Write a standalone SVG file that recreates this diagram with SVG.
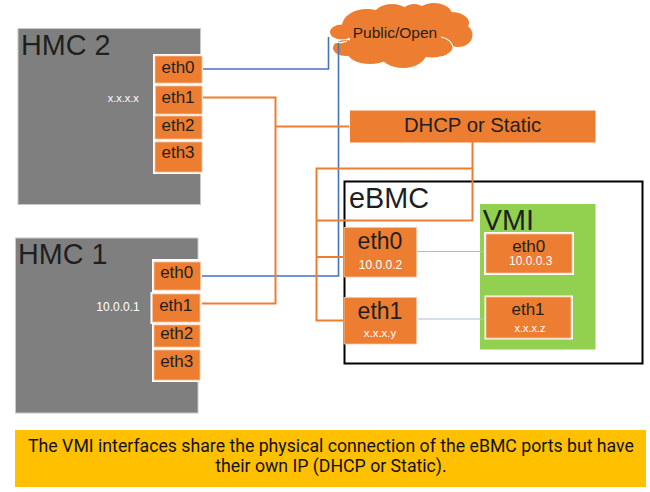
<svg xmlns="http://www.w3.org/2000/svg" width="650" height="492" viewBox="0 0 650 492">
<style>
text{font-family:"Liberation Sans",Arial,sans-serif;fill:#1f1f1f}
.hmc{fill:#7f7f7f;stroke:#c8c8c8;stroke-width:1}
.plate{fill:#fff}
.port{fill:#ed7d31;stroke:#f6c4a2;stroke-width:.8}
.ip{fill:#fff;text-anchor:middle}
.t{font-size:17px;text-anchor:middle}
.big{font-size:28.8px}
.e{font-size:23px;text-anchor:middle}
.o{fill:none;stroke:#ed7d31;stroke-width:2}
.b{fill:none;stroke:#4472c4;stroke-width:1.6}
.lb{fill:none;stroke:#a9bde3;stroke-width:1.2}
.note{font-family:Roboto,"Liberation Sans",sans-serif;font-size:17.7px;text-anchor:middle;fill:#111}
</style>
<rect width="650" height="492" fill="#fff"/>
<g id="hmc2">
<rect class="hmc" x="18" y="28.500" width="182.500" height="176"/>
<text class="big" x="21" y="55">HMC 2</text>
<text class="ip" x="123.300" y="102" font-size="11">x.x.x.x</text>
<rect class="plate" x="153" y="54" width="50" height="120"/>
<rect class="port" x="155" y="56" width="47" height="27"/><text class="t" x="178" y="73">eth0</text>
<rect class="port" x="155.500" y="86" width="46.500" height="28"/><text class="t" x="178" y="103">eth1</text>
<rect class="port" x="155" y="116" width="47" height="23"/><text class="t" x="178" y="131">eth2</text>
<rect class="port" x="155" y="142" width="47" height="30"/><text class="t" x="178" y="158">eth3</text>
</g>
<g id="hmc1">
<rect class="hmc" x="15.500" y="238" width="182.500" height="175"/>
<text class="big" x="18" y="264">HMC 1</text>
<text class="ip" x="118" y="311" font-size="12">10.0.0.1</text>
<rect class="plate" x="152" y="259" width="49" height="123"/>
<rect class="plate" x="150.500" y="292" width="50.500" height="32"/>
<rect class="port" x="154" y="262" width="46.500" height="28"/><text class="t" x="176.700" y="278">eth0</text>
<rect class="port" x="152.500" y="294" width="47.500" height="28"/><text class="t" x="175.700" y="311">eth1</text>
<rect class="port" x="154" y="325" width="46" height="22"/><text class="t" x="176.700" y="339">eth2</text>
<rect class="port" x="154" y="350" width="46" height="30"/><text class="t" x="176.700" y="367">eth3</text>
</g>
<g id="ebmc">
<rect x="344.500" y="181.500" width="298" height="182" fill="#fff" stroke="#000" stroke-width="2"/>
<text x="349" y="208" style="font-size:28.800px">eBMC</text>
</g>
<g id="vmi">
<rect x="480" y="204" width="115.500" height="145.500" fill="#92d050"/>
<text x="482.700" y="230" style="font-size:28.800px">VMI</text>
</g>
<g id="cloud">
<g fill="#ed7d31">
<ellipse cx="342" cy="32" rx="12" ry="7.500"/>
<ellipse cx="346" cy="48" rx="13" ry="8"/>
<ellipse cx="367" cy="26" rx="25" ry="17"/>
<ellipse cx="392" cy="17" rx="19" ry="13"/>
<ellipse cx="414" cy="16" rx="14" ry="12"/>
<ellipse cx="434" cy="15" rx="18" ry="12"/>
<ellipse cx="451" cy="23" rx="18" ry="11"/>
<ellipse cx="458" cy="35" rx="14.500" ry="12"/>
<ellipse cx="370" cy="50" rx="24" ry="14"/>
<ellipse cx="403" cy="52" rx="24" ry="16"/>
<ellipse cx="432" cy="46" rx="21" ry="11.500"/>
<rect x="350" y="20" width="95" height="32"/>
</g>
<path d="M441 37Q451 39 453 47M333 42Q340 44 347 41" fill="none" stroke="#fff" stroke-width="1.200"/>
<text x="395" y="37.700" text-anchor="middle" style="font-size:15.500px">Public/Open</text>
</g>
<g id="connectors">
<path class="b" d="M203 69H328.500V37"/>
<path class="b" d="M202 276H338.500V43"/>
<path class="o" d="M203 97.500H275.500V303.500H202"/>
<path class="o" d="M275.500 126.500H349"/>
<path class="o" d="M472.500 142V220.500H316.500"/>
<path class="o" d="M472.500 168.500H316.500V320.500H343"/>
<path class="o" d="M316.500 257H343"/>
<path class="lb" d="M416 251.500H485"/>
<path class="lb" d="M418 319H486"/>
</g>
<g id="dhcp">
<rect x="350" y="110.500" width="245.500" height="32" fill="#ed7d31"/>
<text x="472.500" y="132.300" text-anchor="middle" style="font-size:20.300px">DHCP or Static</text>
</g>
<g id="ebmc-eth0">
<rect class="port" x="344" y="227.500" width="72.500" height="49.500"/>
<text class="e" x="380" y="249.300">eth0</text>
<text class="ip" x="380.500" y="269.300" font-size="12">10.0.0.2</text>
</g>
<g id="ebmc-eth1">
<rect class="port" x="344" y="297.500" width="72.500" height="46.500"/>
<text class="e" x="380" y="319">eth1</text>
<text class="ip" x="380" y="336.700" font-size="11.500">x.x.x.y</text>
</g>
<g id="vmi-eth0">
<rect class="plate" x="484" y="232" width="90" height="43"/>
<rect class="port" x="486" y="234" width="86" height="39"/>
<text class="t" x="528.700" y="251.700">eth0</text>
<text class="ip" x="530.700" y="265" font-size="12">10.0.0.3</text>
</g>
<g id="vmi-eth1">
<rect class="plate" x="484.500" y="295.500" width="88.500" height="44"/>
<rect class="port" x="486" y="297" width="85" height="41"/>
<text class="t" x="528" y="315">eth1</text>
<text class="ip" x="530" y="332.300" font-size="11">x.x.x.z</text>
</g>
<g id="note">
<rect x="15" y="430" width="631" height="57" fill="#ffc000"/>
<text class="note" x="331" y="452">The VMI interfaces share the physical connection of the eBMC ports but have</text>
<text class="note" x="331" y="472">their own IP (DHCP or Static).</text>
</g>
</svg>
